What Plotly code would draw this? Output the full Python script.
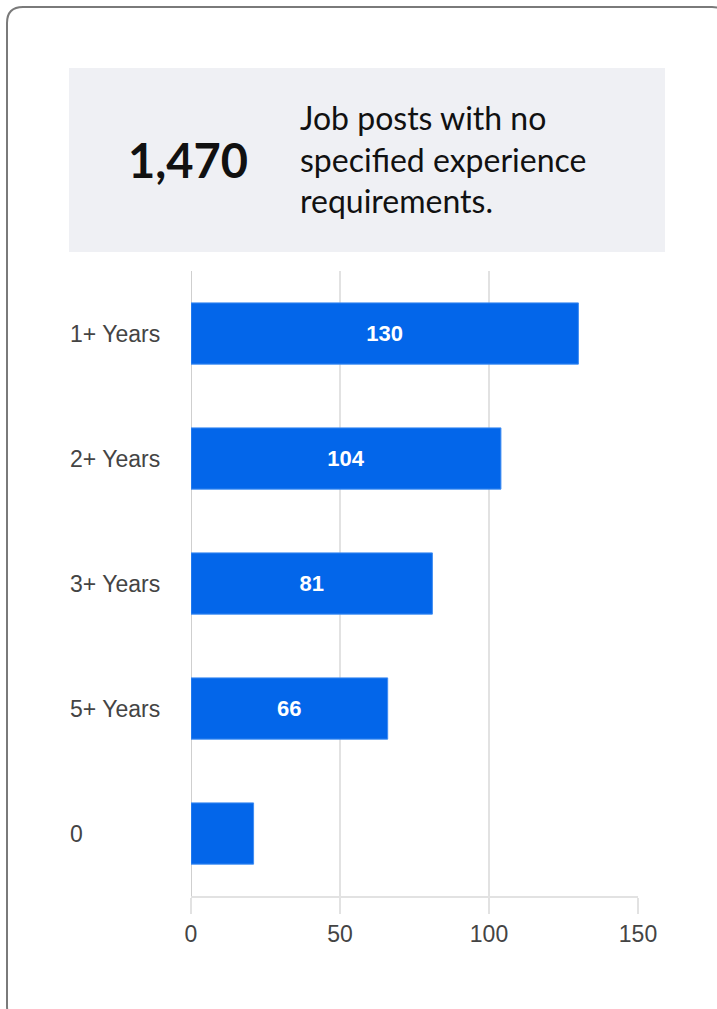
import plotly.graph_objects as go

W, H = 717, 1009

categories = ["1+ Years", "2+ Years", "3+ Years", "5+ Years", "0"]
values = [130, 104, 81, 66, 21]
x_ticks = [0, 50, 100, 150]
headline_value = "1,470"
headline_text = ["Job posts with no", "specified experience", "requirements."]

def px(x):
    return x / W

def py(y):
    return 1 - y / H

bar_labels = [str(v) if v >= 30 else "" for v in values]
positions = list(range(len(categories)))

fig = go.Figure()
fig.add_trace(go.Bar(
    y=positions, x=values, orientation="h",
    width=0.49,
    marker=dict(color="#0366ea", line=dict(color="#3f8cf2", width=1)),
    text=bar_labels, textposition="inside", insidetextanchor="middle",
    textfont=dict(family="Arial, Liberation Sans", size=22, color="white", weight="bold"),
    cliponaxis=False, hoverinfo="skip",
))

# card border with rounded corners
x0, y0, x1, y1, r = 7, 7, 728, 1022, 16
path = (f"M {px(x0)},{py(y0 + r)} "
        f"Q {px(x0)},{py(y0)} {px(x0 + r)},{py(y0)} "
        f"L {px(x1 - r)},{py(y0)} "
        f"Q {px(x1)},{py(y0)} {px(x1)},{py(y0 + r)} "
        f"L {px(x1)},{py(y1 - r)} "
        f"Q {px(x1)},{py(y1)} {px(x1 - r)},{py(y1)} "
        f"L {px(x0 + r)},{py(y1)} "
        f"Q {px(x0)},{py(y1)} {px(x0)},{py(y1 - r)} Z")
shapes = [
    dict(type="path", path=path, xref="paper", yref="paper",
         line=dict(color="#7a7a7a", width=2), fillcolor="rgba(0,0,0,0)", layer="below"),
    dict(type="rect", xref="paper", yref="paper",
         x0=px(69), x1=px(665), y0=py(252), y1=py(68),
         fillcolor="#eff0f4", line=dict(width=0), layer="below"),
]

annotations = [
    dict(text=f"<b>{headline_value}</b>", x=px(188), y=py(160), xref="paper", yref="paper",
         xanchor="center", yanchor="middle", showarrow=False,
         font=dict(family="Lato, Arial", size=47, color="#111111")),
    dict(text="<br>".join(headline_text), x=px(298), y=py(159), xref="paper", yref="paper",
         xanchor="left", yanchor="middle", align="left", showarrow=False,
         font=dict(family="Lato, Arial", size=32, color="#111111")),
]
for i, c in zip(positions, categories):
    annotations.append(dict(text=c, x=px(68), y=i, xref="paper", yref="y",
                            xanchor="left", yanchor="middle", showarrow=False,
                            font=dict(family="Arial, Liberation Sans", size=23, color="#444444")))

fig.update_layout(
    width=W, height=H,
    margin=dict(l=0, r=0, t=0, b=0),
    paper_bgcolor="white", plot_bgcolor="white",
    showlegend=False,
    shapes=shapes,
    annotations=annotations,
    xaxis=dict(domain=[px(191), px(638)], range=[0, 150], tickvals=x_ticks,
               showgrid=True, gridcolor="#e2e2e2", gridwidth=2,
               zeroline=False, showline=True, linecolor="#e2e2e2", linewidth=2,
               ticks="outside", ticklen=16, tickcolor="#e2e2e2", tickwidth=2,
               tickfont=dict(family="Arial, Liberation Sans", size=23, color="#444444"),
               automargin=False, fixedrange=True),
    yaxis=dict(domain=[1 - 896 / H, 1 - 271 / H], range=[4.5, -0.5],
               showticklabels=False, showgrid=False,
               zeroline=False, showline=False, automargin=False, fixedrange=True),
)
# left axis line at x=0
fig.add_shape(type="line", xref="x", yref="paper", x0=0, x1=0, y0=py(896), y1=py(271),
              line=dict(color="#cfcfcf", width=2), layer="below")

fig.write_html("out.html", config={"displayModeBar": False},
               post_script="document.body.style.margin='0';document.body.style.overflow='hidden';")
